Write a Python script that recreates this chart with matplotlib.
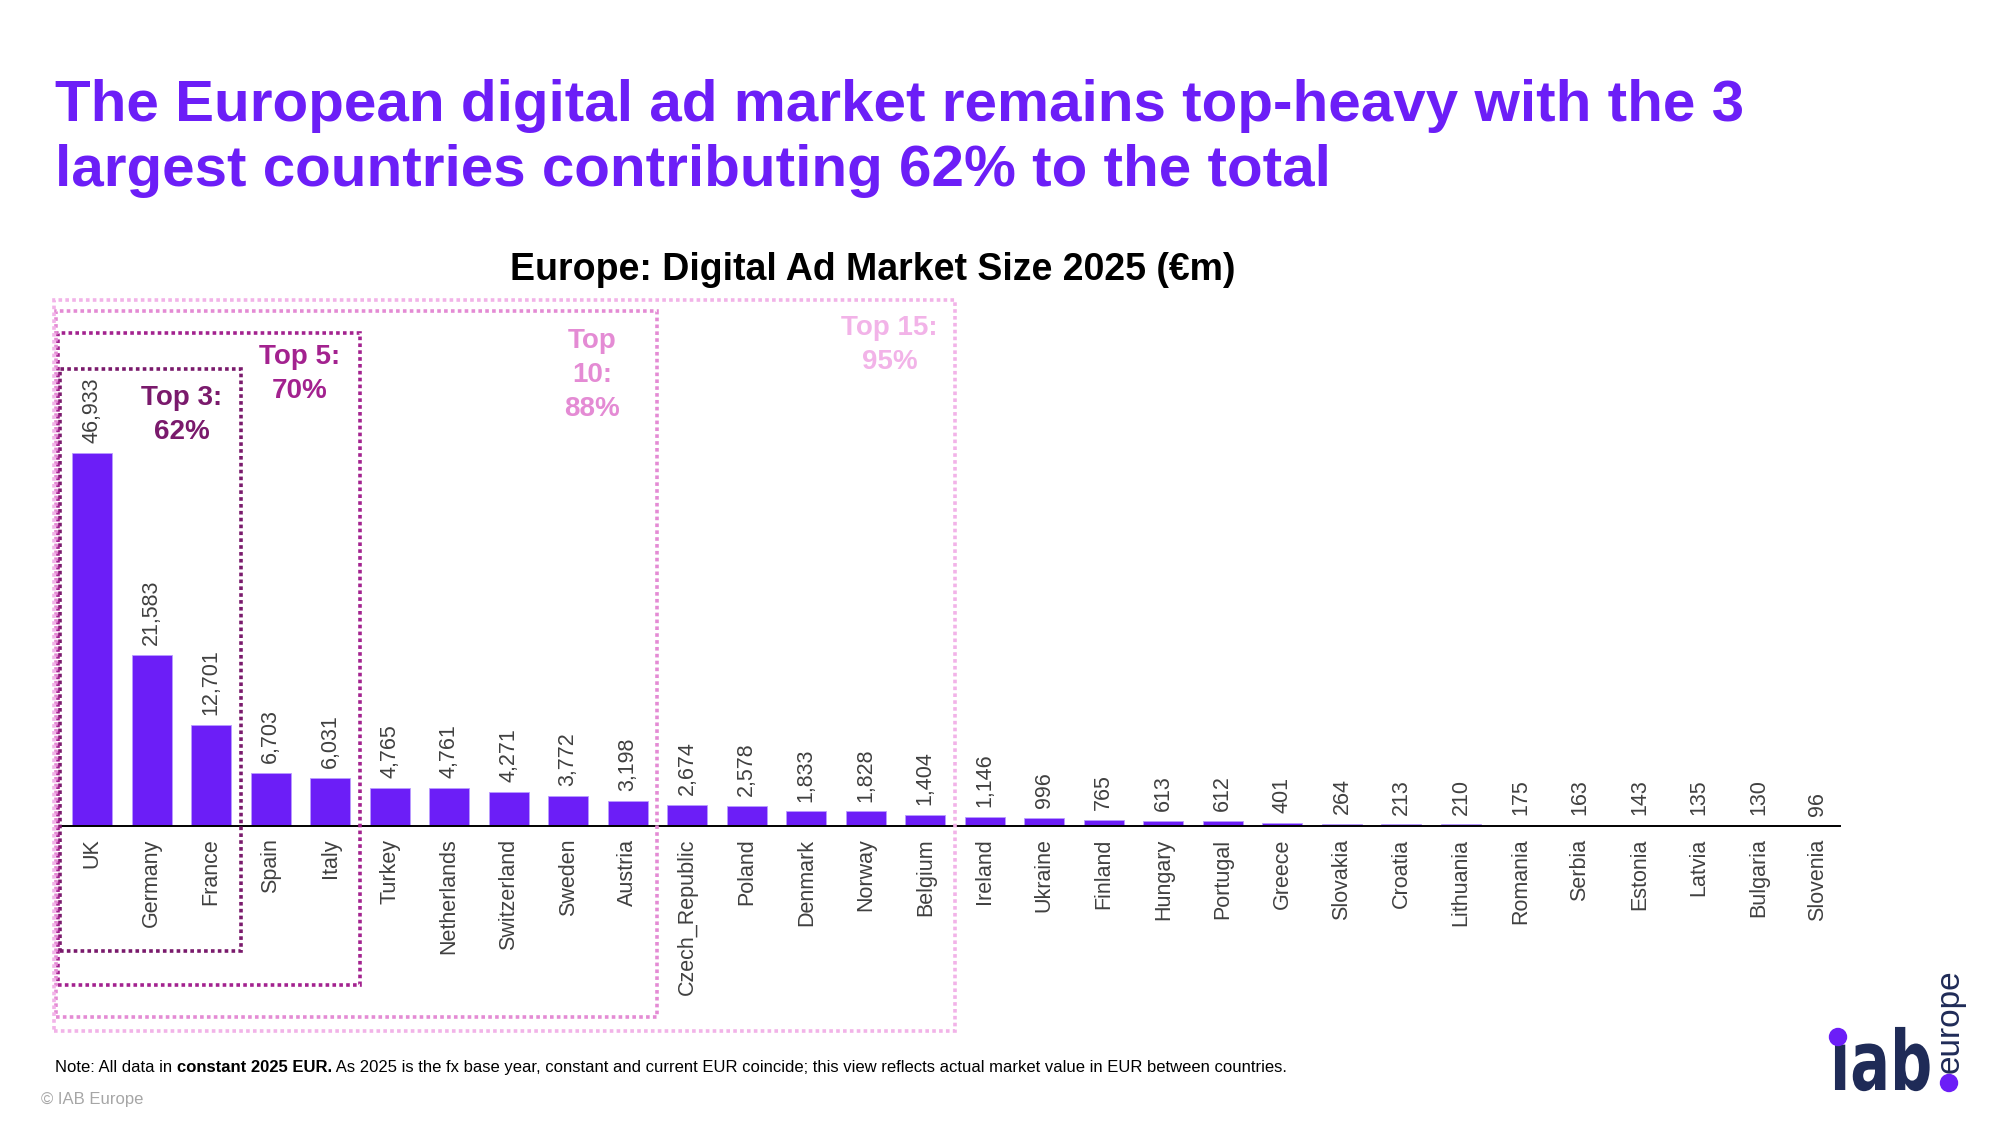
import matplotlib
matplotlib.use("Agg")
import matplotlib.pyplot as plt
from matplotlib.patches import Rectangle, Circle, PathPatch
from matplotlib.textpath import TextPath
from matplotlib.font_manager import FontProperties
from matplotlib.transforms import blended_transform_factory, Affine2D

plt.rcParams['font.family'] = ['Liberation Sans', 'DejaVu Sans']

countries = ['UK', 'Germany', 'France', 'Spain', 'Italy', 'Turkey', 'Netherlands',
             'Switzerland', 'Sweden', 'Austria', 'Czech_Republic', 'Poland', 'Denmark',
             'Norway', 'Belgium', 'Ireland', 'Ukraine', 'Finland', 'Hungary', 'Portugal',
             'Greece', 'Slovakia', 'Croatia', 'Lithuania', 'Romania', 'Serbia', 'Estonia',
             'Latvia', 'Bulgaria', 'Slovenia']
values = [46933, 21583, 12701, 6703, 6031, 4765, 4761, 4271, 3772, 3198, 2674, 2578,
          1833, 1828, 1404, 1146, 996, 765, 613, 612, 401, 264, 213, 210, 175, 163,
          143, 135, 130, 96]

# top-N groups and their share of the total
group_labels = ['Top 3:\n62%', 'Top 5:\n70%', 'Top\n10:\n88%', 'Top 15:\n95%']
group_ends = [3, 5, 10, 15]

PURPLE = '#6c1ef7'
GREY = '#404040'
NAVY = '#1f2b57'
box_colors = ['#7a1a6c', '#a3228f', '#e48bd4', '#f2b3e8']

fig = plt.figure(figsize=(20, 11.25), dpi=100)
W, H = 2000, 1125
ax = fig.add_axes([60 / W, 1 - 826 / H, (1840 - 60) / W, (826 - 300) / H])

x = list(range(len(countries)))
ax.bar(x, values, width=0.67, color=PURPLE, edgecolor='#b99cff', linewidth=0.6)
ax.set_xlim(-0.54, 29.37)
ax.set_ylim(0, 66200)

for xi, v in zip(x, values):
    ax.annotate(f'{v:,}', (xi, v), xytext=(0, 7), textcoords='offset points',
                rotation=90, ha='center', va='bottom', fontsize=15.5, color=GREY)

ax.set_xticks(x)
ax.set_xticklabels(countries, rotation=90, fontsize=15.5, color=GREY, va='top', ha='center')
ax.tick_params(axis='x', length=0, pad=9)
ax.set_yticks([])
for s in ['top', 'left', 'right']:
    ax.spines[s].set_visible(False)
ax.spines['bottom'].set_linewidth(1.4)
ax.spines['bottom'].set_color('black')

# dotted group boxes: x in data units, y in figure pixels
trans = blended_transform_factory(ax.transData, fig.transFigure)
box_left = [-0.54, -0.57, -0.61, -0.64]
box_top = [369, 333, 311, 300]
box_bottom = [951, 985, 1017, 1031]
for end, left, top, bot, col in zip(group_ends, box_left, box_top, box_bottom, box_colors):
    right = end - 0.5
    r = Rectangle((left, 1 - bot / H), right - left, (bot - top) / H, transform=trans,
                  fill=False, edgecolor=col, linewidth=2.6, linestyle=(0, (1, 0.9)),
                  clip_on=False)
    fig.add_artist(r)

label_x = [1.51, 3.48, 8.4, 13.4]
label_y = [385, 344, 328, 315]
for lab, lx, ly, col in zip(group_labels, label_x, label_y, box_colors):
    fig.text(lx, 1 - ly / H, lab, transform=trans, ha='center', va='top',
             fontsize=20, fontweight='bold', color=col, linespacing=1.4)

fig.text(55 / W, 1 - 186 / H,
         'The European digital ad market remains top-heavy with the 3\n'
         'largest countries contributing 62% to the total',
         fontsize=42, fontweight='bold', color=PURPLE, va='baseline', ha='left',
         linespacing=1.27)
fig.text(0.5 * (510 + 1236) / W, 1 - 280 / H, 'Europe: Digital Ad Market Size 2025 (€m)',
         fontsize=27, fontweight='bold', color='black', ha='center', va='baseline')

# note line: normal / bold / normal pieces
renderer = fig.canvas.get_renderer()
note_parts = [('Note: All data in ', 'normal'), ('constant 2025 EUR.', 'bold'),
              (' As 2025 is the fx base year, constant and current EUR coincide; this view '
               'reflects actual market value in EUR between countries.', 'normal')]
nx = 55
for txt, wgt in note_parts:
    t = fig.text(nx / W, 1 - 1072 / H, txt, fontsize=12, fontweight=wgt, color='black',
                 va='baseline', ha='left')
    nx += t.get_window_extent(renderer).width
fig.text(41 / W, 1 - 1104 / H, '© IAB Europe', fontsize=12, color='#a6a6a6', va='baseline')

# iab europe logo (narrow, tall letters via a scaled text path)
tp = TextPath((0, 0), 'ıab', size=1, prop=FontProperties(family='DejaVu Sans', weight='bold'))
logo_tf = Affine2D().scale(59 / 100, 83 / 100).translate(18.30, (1125 - 1090) / 100) \
    + fig.dpi_scale_trans
fig.add_artist(PathPatch(tp, transform=logo_tf, facecolor=NAVY, edgecolor='none'))
fig.add_artist(Circle((18.38, (1125 - 1037) / 100), 0.085, transform=fig.dpi_scale_trans,
                      color=PURPLE, zorder=5))
fig.add_artist(Circle((19.49, (1125 - 1083) / 100), 0.085, transform=fig.dpi_scale_trans,
                      color=PURPLE, zorder=5))
fig.text(1950 / W, 1 - 1073 / H, 'europe', fontsize=24, color=NAVY, rotation=90,
         ha='center', va='bottom')

fig.savefig('out.png', dpi=100)
